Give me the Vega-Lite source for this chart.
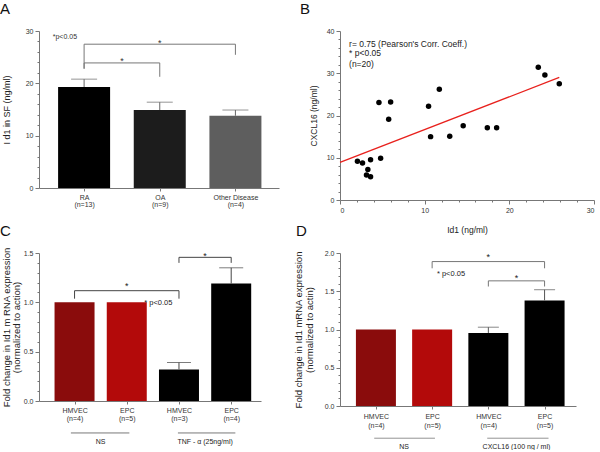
{
  "$schema": "https://vega.github.io/schema/vega-lite/v6.json",
  "padding": {"left": 0, "top": 2, "right": 0, "bottom": 0},
  "background": "white",
  "config": {
    "view": {"stroke": null},
    "font": "Liberation Sans",
    "axis": {"grid": false, "labelFont": "Liberation Sans", "labelFontSize": 7, "labelColor": "#333", "domainColor": "#777", "domainWidth": 1, "tickColor": "#777", "tickWidth": 1, "tickSize": 4, "titleFont": "Liberation Sans", "titleFontWeight": "normal", "titleColor": "#222"},
    "title": {"font": "Liberation Sans", "fontWeight": "normal", "fontSize": 15, "anchor": "start", "frame": "group", "baseline": "alphabetic", "color": "#111"},
    "text": {"font": "Liberation Sans"}
  },
  "resolve": {"scale": {"color": "independent"}},
  "datasets": {
    "aBars": [
      {"x": 1, "y": 19.3, "err": 20.8, "k": "RA"},
      {"x": 2, "y": 14.9, "err": 16.4, "k": "OA"},
      {"x": 3, "y": 13.8, "err": 14.9, "k": "Other Disease"}
    ],
    "aBr": [
      {"b": 1, "o": 1, "x": 1, "y": 22.8}, {"b": 1, "o": 2, "x": 1, "y": 27.48}, {"b": 1, "o": 3, "x": 3, "y": 27.48}, {"b": 1, "o": 4, "x": 3, "y": 25.45},
      {"b": 2, "o": 1, "x": 1, "y": 22.8}, {"b": 2, "o": 2, "x": 1, "y": 23.9}, {"b": 2, "o": 3, "x": 2, "y": 23.9}, {"b": 2, "o": 4, "x": 2, "y": 21.25}
    ],
    "aStar": [{"x": 2, "y": 27.2, "t": "*"}, {"x": 1.5, "y": 23.6, "t": "*"}],
    "aNote": [{"x": 0.585, "y": 28.47, "t": "*p<0.05"}],
    "bPts": [
      {"x": 2.06, "y": 9.15}, {"x": 2.66, "y": 8.76}, {"x": 3.13, "y": 5.9}, {"x": 3.29, "y": 7.2}, {"x": 3.61, "y": 5.5},
      {"x": 3.61, "y": 9.5}, {"x": 4.6, "y": 23.1}, {"x": 4.8, "y": 9.9}, {"x": 5.75, "y": 19.1}, {"x": 5.98, "y": 23.2},
      {"x": 10.46, "y": 22.2}, {"x": 10.7, "y": 15.0}, {"x": 11.73, "y": 26.2}, {"x": 12.96, "y": 15.1}, {"x": 14.55, "y": 17.6},
      {"x": 17.4, "y": 17.1}, {"x": 18.5, "y": 17.1}, {"x": 23.42, "y": 31.4}, {"x": 24.2, "y": 29.6}, {"x": 25.9, "y": 27.5}
    ],
    "bFit": [{"x": 0, "y": 8.9}, {"x": 25.9, "y": 29.0}],
    "bNote": [
      {"x": 1.07, "y": 36.28, "t": "r= 0.75 (Pearson's Corr. Coeff.)"},
      {"x": 1.07, "y": 34.01, "t": "* p<0.05"},
      {"x": 1.07, "y": 31.55, "t": "(n=20)"}
    ],
    "cBars": [
      {"x": 1, "y": 1.0, "k": "NS HMVEC"},
      {"x": 2, "y": 1.0, "k": "NS EPC"},
      {"x": 3, "y": 0.32, "err": 0.39, "k": "Treated"},
      {"x": 4, "y": 1.19, "err": 1.35, "k": "Treated"}
    ],
    "cBr": [
      {"b": 1, "o": 1, "x": 1, "y": 1.037}, {"b": 1, "o": 2, "x": 1, "y": 1.118}, {"b": 1, "o": 3, "x": 3, "y": 1.118}, {"b": 1, "o": 4, "x": 3, "y": 1.037},
      {"b": 2, "o": 1, "x": 3, "y": 1.40}, {"b": 2, "o": 2, "x": 3, "y": 1.456}, {"b": 2, "o": 3, "x": 4, "y": 1.456}, {"b": 2, "o": 4, "x": 4, "y": 1.40}
    ],
    "cStar": [{"x": 2, "y": 1.135, "t": "*"}, {"x": 3.5, "y": 1.44, "t": "*"}],
    "cNote": [{"x": 2.335, "y": 0.968, "t": "*  p<0.05"}],
    "cGrp": [{"x": 0.93, "x2": 2.05, "y": -0.324, "xm": 1.5, "yl": -0.431, "t": "NS"}, {"x": 2.98, "x2": 4.08, "y": -0.324, "xm": 3.5, "yl": -0.431, "t": "TNF   - α (25ng/ml)"}],
    "dBars": [
      {"x": 1, "y": 1.0, "k": "NS HMVEC"},
      {"x": 2, "y": 1.0, "k": "NS EPC"},
      {"x": 3, "y": 0.955, "err": 1.03, "k": "Treated"},
      {"x": 4, "y": 1.38, "err": 1.52, "k": "Treated"}
    ],
    "dBr": [
      {"b": 1, "o": 1, "x": 2, "y": 1.80}, {"b": 1, "o": 2, "x": 2, "y": 1.888}, {"b": 1, "o": 3, "x": 4, "y": 1.888}, {"b": 1, "o": 4, "x": 4, "y": 1.80},
      {"b": 2, "o": 1, "x": 3, "y": 1.562}, {"b": 2, "o": 2, "x": 3, "y": 1.636}, {"b": 2, "o": 3, "x": 4, "y": 1.636}, {"b": 2, "o": 4, "x": 4, "y": 1.562}
    ],
    "dStar": [{"x": 3, "y": 1.914, "t": "*"}, {"x": 3.5, "y": 1.64, "t": "*"}],
    "dNote": [{"x": 2.085, "y": 1.70, "t": "*  p<0.05"}],
    "dGrp": [{"x": 0.97, "x2": 2.05, "y": -0.421, "xm": 1.5, "yl": -0.562, "t": "NS"}, {"x": 2.98, "x2": 4.07, "y": -0.421, "xm": 3.5, "yl": -0.562, "t": "CXCL16 (100 ng / ml)"}]
  },
  "columns": 2,
  "spacing": {"row": 53, "column": 61},
  "bounds": "flush",
  "concat": [
    {
      "width": 240, "height": 157,
      "title": {"text": "A", "dx": -39, "offset": 10},
      "resolve": {"axis": {"y": "independent"}},
      "layer": [
        {
          "data": {"name": "aBars"},
          "mark": {"type": "bar", "orient": "vertical", "size": 52},
          "encoding": {
            "x": {"field": "x", "type": "quantitative", "scale": {"domain": [0.47, 3.51], "nice": false, "zero": false},
                  "axis": {"values": [1, 2, 3], "title": null, "tickSize": 3, "labelPadding": 2, "labelLineHeight": 7,
                           "labelExpr": "[['RA','(n=13)'],['OA','(n=9)'],['Other Disease','(n=4)']][datum.value-1]"}},
            "y": {"field": "y", "type": "quantitative", "scale": {"domain": [0, 30], "nice": false},
                  "title": "I d1 in SF (ng/ml)",
                  "axis": {"values": [0, 10, 20, 30], "titleFontSize": 9, "titlePadding": 14}},
            "color": {"field": "k", "type": "nominal", "legend": null,
                      "scale": {"domain": ["RA", "OA", "Other Disease"], "range": ["#000000", "#1c1c1c", "#5e5e5e"]}}
          }
        },
        {
          "data": {"name": "aBars"},
          "mark": {"type": "point", "opacity": 0},
          "encoding": {
            "x": {"field": "x", "type": "quantitative"},
            "y": {"field": "y", "type": "quantitative", "axis": {"orient": "left", "title": null, "labels": false, "domain": false, "tickSize": 2, "values": [2,4,6,8,12,14,16,18,22,24,26,28]}}
          }
        },
        {
          "data": {"name": "aBars"},
          "mark": {"type": "rule", "color": "#666", "strokeWidth": 1},
          "encoding": {"x": {"field": "x", "type": "quantitative"}, "y": {"field": "y", "type": "quantitative", "axis": null}, "y2": {"field": "err"}}
        },
        {
          "data": {"name": "aBars"},
          "mark": {"type": "tick", "orient": "horizontal", "size": 26, "thickness": 1, "color": "#666"},
          "encoding": {"x": {"field": "x", "type": "quantitative"}, "y": {"field": "err", "type": "quantitative", "axis": null}}
        },
        {
          "data": {"name": "aBr"},
          "mark": {"type": "line", "color": "#777", "strokeWidth": 1},
          "encoding": {"x": {"field": "x", "type": "quantitative"}, "y": {"field": "y", "type": "quantitative", "axis": null}, "detail": {"field": "b"}, "order": {"field": "o"}}
        },
        {
          "data": {"name": "aStar"},
          "mark": {"type": "text", "fontSize": 9, "baseline": "alphabetic", "color": "#333"},
          "encoding": {"x": {"field": "x", "type": "quantitative"}, "y": {"field": "y", "type": "quantitative", "axis": null}, "text": {"field": "t"}}
        },
        {
          "data": {"name": "aNote"},
          "mark": {"type": "text", "fontSize": 7, "align": "left", "baseline": "alphabetic", "color": "#333"},
          "encoding": {"x": {"field": "x", "type": "quantitative"}, "y": {"field": "y", "type": "quantitative", "axis": null}, "text": {"field": "t"}}
        }
      ]
    },
    {
      "width": 254, "height": 169,
      "title": {"text": "B", "dx": -40, "offset": 10},
      "resolve": {"axis": {"x": "independent", "y": "independent"}},
      "layer": [
        {
          "data": {"name": "bPts"},
          "mark": {"type": "circle", "size": 30, "color": "#000", "opacity": 1},
          "encoding": {
            "x": {"field": "x", "type": "quantitative", "scale": {"domain": [0, 30], "nice": false},
                  "title": "Id1 (ng/ml)",
                  "axis": {"values": [0, 10, 20, 30], "titleFontSize": 8.5, "titlePadding": 12}},
            "y": {"field": "y", "type": "quantitative", "scale": {"domain": [0, 40], "nice": false},
                  "title": "CXCL16 (ng/ml)",
                  "axis": {"values": [0, 10, 20, 30, 40], "titleFontSize": 8.5, "titlePadding": 8}}
          }
        },
        {
          "data": {"name": "bPts"},
          "mark": {"type": "point", "opacity": 0},
          "encoding": {
            "x": {"field": "x", "type": "quantitative", "axis": {"orient": "bottom", "title": null, "labels": false, "domain": false, "tickSize": 2, "values": [2,4,6,8,12,14,16,18,22,24,26,28]}},
            "y": {"field": "y", "type": "quantitative", "axis": {"orient": "left", "title": null, "labels": false, "domain": false, "tickSize": 2, "values": [2,4,6,8,12,14,16,18,22,24,26,28,32,34,36,38]}}
          }
        },
        {
          "data": {"name": "bFit"},
          "mark": {"type": "line", "color": "#e8211d", "strokeWidth": 1.3},
          "encoding": {"x": {"field": "x", "type": "quantitative", "axis": null}, "y": {"field": "y", "type": "quantitative", "axis": null}}
        },
        {
          "data": {"name": "bNote"},
          "mark": {"type": "text", "fontSize": 8.5, "align": "left", "baseline": "alphabetic", "color": "#222"},
          "encoding": {"x": {"field": "x", "type": "quantitative", "axis": null}, "y": {"field": "y", "type": "quantitative", "axis": null}, "text": {"field": "t"}}
        }
      ]
    },
    {
      "width": 222, "height": 148,
      "title": {"text": "C", "dx": -39, "offset": 10, "dy": 2},
      "resolve": {"axis": {"y": "independent"}},
      "layer": [
        {
          "data": {"name": "cBars"},
          "mark": {"type": "bar", "orient": "vertical", "size": 40},
          "encoding": {
            "x": {"field": "x", "type": "quantitative", "scale": {"domain": [0.415, 4.475], "nice": false, "zero": false},
                  "axis": {"values": [1, 2, 3, 4], "title": null, "tickSize": 3, "labelPadding": 2, "labelLineHeight": 8.3,
                           "labelExpr": "[['HMVEC','(n=4)'],['EPC','(n=5)'],['HMVEC','(n=3)'],['EPC','(n=4)']][datum.value-1]"}},
            "y": {"field": "y", "type": "quantitative", "scale": {"domain": [0, 1.5], "nice": false},
                  "title": ["Fold change in Id1 m RNA expression", "(normalized to action)"],
                  "axis": {"values": [0, 0.5, 1.0, 1.5], "format": ".1f", "titleFontSize": 9.5, "titlePadding": 1.5, "titleLineHeight": 10.5}},
            "color": {"field": "k", "type": "nominal", "legend": null,
                      "scale": {"domain": ["NS HMVEC", "NS EPC", "Treated"], "range": ["#8a0c0c", "#b30a0a", "#000000"]}}
          }
        },
        {
          "data": {"name": "cBars"},
          "mark": {"type": "point", "opacity": 0},
          "encoding": {
            "x": {"field": "x", "type": "quantitative"},
            "y": {"field": "y", "type": "quantitative", "axis": {"orient": "left", "title": null, "labels": false, "domain": false, "tickSize": 2, "values": [0.1,0.2,0.3,0.4,0.6,0.7,0.8,0.9,1.1,1.2,1.3,1.4]}}
          }
        },
        {
          "data": {"name": "cBars"},
          "transform": [{"filter": "isValid(datum.err)"}],
          "mark": {"type": "rule", "color": "#444", "strokeWidth": 1},
          "encoding": {"x": {"field": "x", "type": "quantitative"}, "y": {"field": "y", "type": "quantitative", "axis": null}, "y2": {"field": "err"}}
        },
        {
          "data": {"name": "cBars"},
          "transform": [{"filter": "isValid(datum.err)"}],
          "mark": {"type": "tick", "orient": "horizontal", "size": 24, "thickness": 1, "color": "#444"},
          "encoding": {"x": {"field": "x", "type": "quantitative"}, "y": {"field": "err", "type": "quantitative", "axis": null}}
        },
        {
          "data": {"name": "cBr"},
          "mark": {"type": "line", "color": "#444", "strokeWidth": 1},
          "encoding": {"x": {"field": "x", "type": "quantitative"}, "y": {"field": "y", "type": "quantitative", "axis": null}, "detail": {"field": "b"}, "order": {"field": "o"}}
        },
        {
          "data": {"name": "cStar"},
          "mark": {"type": "text", "fontSize": 9, "baseline": "alphabetic", "color": "#222"},
          "encoding": {"x": {"field": "x", "type": "quantitative"}, "y": {"field": "y", "type": "quantitative", "axis": null}, "text": {"field": "t"}}
        },
        {
          "data": {"name": "cNote"},
          "mark": {"type": "text", "fontSize": 7.5, "align": "left", "baseline": "alphabetic", "color": "#222"},
          "encoding": {"x": {"field": "x", "type": "quantitative"}, "y": {"field": "y", "type": "quantitative", "axis": null}, "text": {"field": "t"}}
        },
        {
          "data": {"name": "cGrp"},
          "mark": {"type": "rule", "color": "#555", "strokeWidth": 0.8},
          "encoding": {"x": {"field": "x", "type": "quantitative"}, "x2": {"field": "x2"}, "y": {"field": "y", "type": "quantitative", "axis": null}}
        },
        {
          "data": {"name": "cGrp"},
          "mark": {"type": "text", "fontSize": 7, "baseline": "alphabetic", "color": "#222"},
          "encoding": {"x": {"field": "xm", "type": "quantitative"}, "y": {"field": "yl", "type": "quantitative", "axis": null}, "text": {"field": "t"}}
        }
      ]
    },
    {
      "width": 236, "height": 153,
      "title": {"text": "D", "dx": -44, "offset": 10, "dy": 0},
      "resolve": {"axis": {"y": "independent"}},
      "layer": [
        {
          "data": {"name": "dBars"},
          "mark": {"type": "bar", "orient": "vertical", "size": 40},
          "encoding": {
            "x": {"field": "x", "type": "quantitative", "scale": {"domain": [0.45, 4.47], "nice": false, "zero": false},
                  "axis": {"values": [1, 2, 3, 4], "title": null, "tickSize": 3, "labelPadding": 3.5, "labelLineHeight": 9,
                           "labelExpr": "[['HMVEC','(n=4)'],['EPC','(n=5)'],['HMVEC','(n=4)'],['EPC','(n=5)']][datum.value-1]"}},
            "y": {"field": "y", "type": "quantitative", "scale": {"domain": [0, 2], "nice": false},
                  "title": ["Fold change in Id1 mRNA expression", "(normalized to actin)"],
                  "axis": {"values": [0, 0.5, 1.0, 1.5, 2.0], "format": ".1f", "titleFontSize": 9.5, "titlePadding": 10, "titleLineHeight": 10.5}},
            "color": {"field": "k", "type": "nominal", "legend": null,
                      "scale": {"domain": ["NS HMVEC", "NS EPC", "Treated"], "range": ["#8a0c0c", "#b30a0a", "#000000"]}}
          }
        },
        {
          "data": {"name": "dBars"},
          "mark": {"type": "point", "opacity": 0},
          "encoding": {
            "x": {"field": "x", "type": "quantitative"},
            "y": {"field": "y", "type": "quantitative", "axis": {"orient": "left", "title": null, "labels": false, "domain": false, "tickSize": 2, "values": [0.1,0.2,0.3,0.4,0.6,0.7,0.8,0.9,1.1,1.2,1.3,1.4,1.6,1.7,1.8,1.9]}}
          }
        },
        {
          "data": {"name": "dBars"},
          "transform": [{"filter": "isValid(datum.err)"}],
          "mark": {"type": "rule", "color": "#555", "strokeWidth": 1},
          "encoding": {"x": {"field": "x", "type": "quantitative"}, "y": {"field": "y", "type": "quantitative", "axis": null}, "y2": {"field": "err"}}
        },
        {
          "data": {"name": "dBars"},
          "transform": [{"filter": "isValid(datum.err)"}],
          "mark": {"type": "tick", "orient": "horizontal", "size": 21, "thickness": 1, "color": "#555"},
          "encoding": {"x": {"field": "x", "type": "quantitative"}, "y": {"field": "err", "type": "quantitative", "axis": null}}
        },
        {
          "data": {"name": "dBr"},
          "mark": {"type": "line", "color": "#777", "strokeWidth": 1},
          "encoding": {"x": {"field": "x", "type": "quantitative"}, "y": {"field": "y", "type": "quantitative", "axis": null}, "detail": {"field": "b"}, "order": {"field": "o"}}
        },
        {
          "data": {"name": "dStar"},
          "mark": {"type": "text", "fontSize": 9, "baseline": "alphabetic", "color": "#222"},
          "encoding": {"x": {"field": "x", "type": "quantitative"}, "y": {"field": "y", "type": "quantitative", "axis": null}, "text": {"field": "t"}}
        },
        {
          "data": {"name": "dNote"},
          "mark": {"type": "text", "fontSize": 7.5, "align": "left", "baseline": "alphabetic", "color": "#222"},
          "encoding": {"x": {"field": "x", "type": "quantitative"}, "y": {"field": "y", "type": "quantitative", "axis": null}, "text": {"field": "t"}}
        },
        {
          "data": {"name": "dGrp"},
          "mark": {"type": "rule", "color": "#777", "strokeWidth": 0.8},
          "encoding": {"x": {"field": "x", "type": "quantitative"}, "x2": {"field": "x2"}, "y": {"field": "y", "type": "quantitative", "axis": null}}
        },
        {
          "data": {"name": "dGrp"},
          "mark": {"type": "text", "fontSize": 7, "baseline": "alphabetic", "color": "#222"},
          "encoding": {"x": {"field": "xm", "type": "quantitative"}, "y": {"field": "yl", "type": "quantitative", "axis": null}, "text": {"field": "t"}}
        }
      ]
    }
  ]
}
